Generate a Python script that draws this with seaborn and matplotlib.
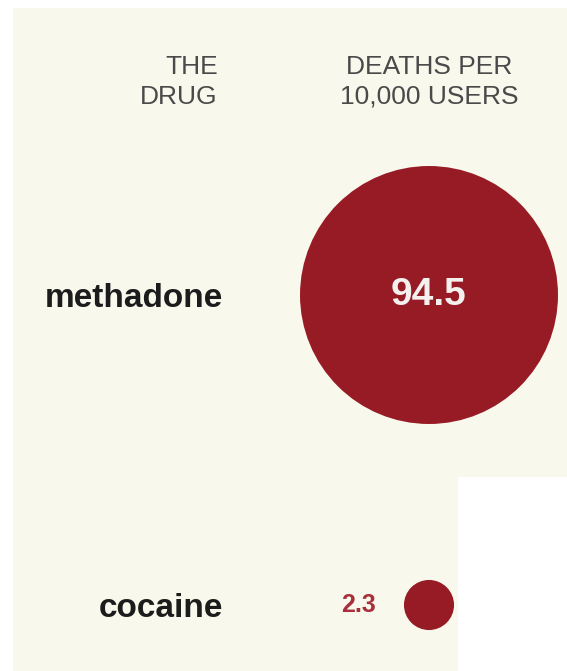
import numpy as np
import pandas as pd
import seaborn as sns
import matplotlib.pyplot as plt
from matplotlib.patches import Rectangle

sns.set_theme(style="white")
plt.rcParams['font.family'] = ['Liberation Sans', 'DejaVu Sans']

# data
drugs = ["methadone", "cocaine"]
deaths_per_10k = [94.5, 2.3]

df = pd.DataFrame({"drug": drugs, "deaths": deaths_per_10k, "col": [0, 0]})

cream = "#f8f8ec"
red = "#971b25"

W, H = 567, 671
fig = plt.figure(figsize=(W / 100, H / 100), dpi=100)
fig.patch.set_facecolor("white")

# cream panel, white corner bottom right
fig.add_artist(Rectangle((13 / W, 0), 1 - 13 / W, 1 - 8 / H, transform=fig.transFigure,
                         facecolor=cream, edgecolor="none", zorder=0))
fig.add_artist(Rectangle((458 / W, 0), 1 - 458 / W, (H - 477) / H, transform=fig.transFigure,
                         facecolor="white", edgecolor="none", zorder=0))

ax = fig.add_axes([235 / W, 0, 1 - 235 / W, 1 - 8 / H])
ax.patch.set_alpha(0)

sns.scatterplot(data=df, x="col", y="drug", size="deaths", sizes=(1300, 34500),
                color=red, linewidth=0, legend=False, ax=ax, zorder=3)

# px -> data: circle column at 429px, rows at 295px and 605px
ax.set_xlim(-(429 - 235) / 100, (567 - 429) / 100)
ax.set_ylim(1 + (671 - 605) / 310, -(295 - 8) / 310)

for i, (d, v) in enumerate(zip(drugs, deaths_per_10k)):
    if v > 20:
        ax.annotate(f"{v}", (0, i), ha="center", va="center", color="#f4f0ee",
                    fontsize=28, fontweight="bold", zorder=4)
    else:
        ax.annotate(f"{v}", (0, i), xytext=(-51, 0), textcoords="offset points",
                    ha="center", va="center", color="#a8303b", fontsize=18,
                    fontweight="bold", zorder=4)

ax.set_xlabel("")
ax.set_ylabel("")
ax.set_xticks([])
ax.tick_params(axis="y", length=0, pad=8.5)
for t in ax.get_yticklabels():
    t.set_fontsize(24)
    t.set_fontweight("bold")
    t.set_color("#1c1c1c")
sns.despine(ax=ax, left=True, bottom=True)

# column headers
fig.text(218 / W, 1 - 82 / H, "THE\nDRUG", ha="right", va="center",
         fontsize=19, color="#4a4a4a", linespacing=1.3)
fig.text(429 / W, 1 - 82 / H, "DEATHS PER\n10,000 USERS", ha="center", va="center",
         fontsize=19, color="#4a4a4a", linespacing=1.3)

fig.savefig("out.png", dpi=100, facecolor=fig.get_facecolor())
